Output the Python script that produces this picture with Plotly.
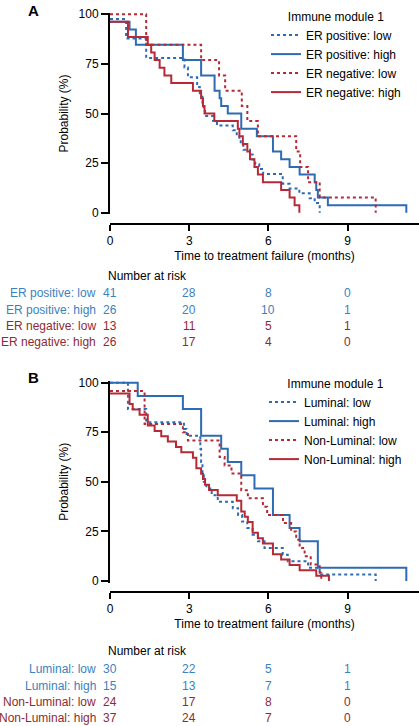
import plotly.graph_objects as go

# ---------------- Data ----------------
# Panel A : ER status x Immune module 1
er_pos_low_t = [0, 0.61, 1.37, 2.82, 2.95, 3.3, 3.4, 3.5, 3.55, 3.6, 3.9, 4.05, 4.65, 4.8, 4.9, 4.95, 5.05,
                5.3, 5.4, 5.5, 5.65, 5.8, 6.54, 6.8, 7.17, 7.56, 7.75, 7.94]
er_pos_low_s = [97.6, 87.8, 78.0, 73.2, 68.3, 63.4, 58.5, 53.7, 51.2, 48.8, 46.3, 43.9, 41.5, 39.0, 36.6, 34.1, 31.7,
                29.3, 26.8, 24.4, 22.0, 19.5, 14.6, 12.2, 9.8, 7.3, 4.9, 0]

er_pos_high_t = [0, 0.74, 0.98, 2.76, 3.45, 3.96, 4.15, 4.21, 4.46, 4.97, 5.56, 6.17, 6.48, 6.8, 7.18, 7.75,
                 7.81, 7.87, 8.25, 11.22]
er_pos_high_s = [96.2, 92.3, 84.6, 76.9, 69.2, 61.5, 57.7, 53.8, 50.0, 42.3, 38.5, 30.8, 26.9, 23.1, 19.2, 15.4,
                 11.5, 7.7, 3.8, 0]

er_neg_low_t = [0, 1.37, 3.45, 4.13, 4.36, 4.99, 5.2, 5.6, 7.05, 7.2, 7.5, 7.94, 10.06]
er_neg_low_s = [100, 84.6, 76.9, 69.2, 61.5, 53.8, 46.2, 38.5, 30.8, 23.1, 15.4, 7.7, 0]

er_neg_high_t = [0, 0.68, 1.43, 1.56, 1.69, 1.88, 2.06, 2.32, 3.14, 3.45, 3.52, 3.58, 3.95, 4.84, 4.9, 5.03,
                 5.2, 5.3, 5.47, 5.6, 5.79, 6.48, 6.8, 6.99, 7.17]
er_neg_high_s = [96.2, 88.5, 84.6, 80.8, 76.9, 73.1, 69.2, 65.4, 61.5, 57.7, 53.8, 50.0, 46.2, 42.3, 38.5, 34.6,
                 30.8, 26.9, 23.1, 19.2, 15.4, 11.5, 7.7, 3.8, 0]

# Panel B : Luminal status x Immune module 1
lum_low_t = [0, 0.68, 1.37, 2.8, 2.9, 3.42, 3.45, 3.5, 3.55, 3.65, 3.85, 4.08, 4.65, 4.85, 5.0, 5.2, 5.4, 5.6,
             5.85, 6.54, 6.73, 7.5, 7.94, 10.06]
lum_low_s = [100, 86.7, 80.0, 76.7, 73.3, 66.7, 60.0, 53.3, 50.0, 46.7, 43.3, 40.0, 36.7, 33.3, 30.0, 26.7, 23.3,
             20.0, 16.7, 13.3, 10.0, 6.7, 3.3, 0]

lum_high_t = [0, 1.05, 2.76, 3.45, 4.21, 4.46, 4.97, 5.47, 6.17, 6.8, 7.18, 7.87, 11.22]
lum_high_s = [100, 93.3, 86.7, 73.3, 66.7, 60.0, 53.3, 46.7, 33.3, 26.7, 20.0, 6.7, 0]

nonlum_low_t = [0, 1.31, 2.76, 2.95, 4.15, 4.34, 4.6, 4.97, 5.22, 5.79, 5.95, 6.55, 6.86, 7.05, 7.18, 7.37,
                7.6, 7.94, 8.0]
nonlum_low_s = [95.8, 79.2, 75.0, 70.8, 62.5, 58.3, 54.2, 45.8, 41.7, 37.5, 33.3, 29.2, 25.0, 20.8, 16.7, 12.5,
                8.3, 4.2, 0]

nonlum_high_t = [0, 0.74, 0.86, 1.12, 1.43, 1.69, 1.94, 2.19, 2.5, 2.7, 3.14, 3.27, 3.45, 3.52, 3.6, 3.75,
                 4.08, 4.8, 4.97, 5.1, 5.22, 5.4, 5.6, 5.79, 6.17, 6.48, 6.8, 7.18, 7.81, 8.29]
nonlum_high_s = [94.6, 89.2, 86.5, 83.8, 78.4, 75.7, 73.0, 70.3, 67.6, 64.9, 62.2, 56.8, 54.1, 51.4, 48.6, 45.9,
                 43.2, 40.5, 35.1, 32.4, 29.7, 24.3, 21.6, 18.9, 13.5, 10.8, 8.1, 5.4, 2.7, 0]

# Number at risk tables
risk_times = [0, 3, 6, 9]
labels_a = ["ER positive: low", "ER positive: high", "ER negative: low", "ER negative: high"]
risk_a = [[41, 28, 8, 0], [26, 20, 10, 1], [13, 11, 5, 1], [26, 17, 4, 0]]
labels_b = ["Luminal: low", "Luminal: high", "Non-Luminal: low", "Non-Luminal: high"]
risk_b = [[30, 22, 5, 1], [15, 13, 7, 1], [24, 17, 8, 0], [37, 24, 7, 0]]

x_ticks = [0, 3, 6, 9]
y_ticks = [0, 25, 50, 75, 100]

# ---------------- Styling ----------------
FONT = "Liberation Sans, Arial, Helvetica, sans-serif"
BLUE = "#2d6bb2"
RED = "#b52a36"
BLUE_TXT = "#3b82c0"
RED_TXT = "#8e2a31"
W, H = 419, 726


def py(px):
    return 1 - px / H


def pxx(px):
    return px / W


fig = go.Figure()

series_a = [
    (labels_a[0], er_pos_low_t, er_pos_low_s, BLUE, "dot"),
    (labels_a[1], er_pos_high_t, er_pos_high_s, BLUE, "solid"),
    (labels_a[2], er_neg_low_t, er_neg_low_s, RED, "dot"),
    (labels_a[3], er_neg_high_t, er_neg_high_s, RED, "solid"),
]
series_b = [
    (labels_b[0], lum_low_t, lum_low_s, BLUE, "dot"),
    (labels_b[1], lum_high_t, lum_high_s, BLUE, "solid"),
    (labels_b[2], nonlum_low_t, nonlum_low_s, RED, "dot"),
    (labels_b[3], nonlum_high_t, nonlum_high_s, RED, "solid"),
]

for name, t, s, c, d in series_a:
    fig.add_trace(go.Scatter(x=t, y=s, mode="lines", name=name, line=dict(color=c, width=2, dash=d, shape="hv"),
                             xaxis="x", yaxis="y", legend="legend"))
for name, t, s, c, d in series_b:
    fig.add_trace(go.Scatter(x=t, y=s, mode="lines", name=name, line=dict(color=c, width=2, dash=d, shape="hv"),
                             xaxis="x2", yaxis="y2", legend="legend2"))

# axis geometry (pixels measured from reference)
A_top, A_bot, A_xaxis = 12.7, 214.3, 224
B_top, B_bot, B_xaxis = 381.1, 582.6, 592

xcommon = dict(range=[0, 11.7], tickvals=x_ticks, showline=True, linewidth=2, linecolor="black",
               ticks="outside", ticklen=6, tickwidth=2, tickcolor="black", showgrid=False, zeroline=False,
               tickfont=dict(size=12, color="black"), anchor="free", automargin=False,
               domain=[pxx(110), 1.0])
ycommon = dict(range=[-0.8, 100.8], tickvals=y_ticks, showline=True, linewidth=2, linecolor="black",
               ticks="outside", ticklen=7, tickwidth=2, tickcolor="black", showgrid=False, zeroline=False,
               tickfont=dict(size=12, color="black"), automargin=False)

fig.update_layout(
    xaxis=dict(**xcommon, position=py(A_xaxis),
               title=dict(text="Time to treatment failure (months)", font=dict(size=12), standoff=3)),
    yaxis=dict(**ycommon, domain=[py(A_bot), py(A_top)], anchor="x",
               title=dict(text="Probability (%)", font=dict(size=12), standoff=7)),
    xaxis2=dict(**xcommon, position=py(B_xaxis),
                title=dict(text="Time to treatment failure (months)", font=dict(size=12), standoff=3)),
    yaxis2=dict(**ycommon, domain=[py(B_bot), py(B_top)], anchor="x2",
                title=dict(text="Probability (%)", font=dict(size=12), standoff=7)),
)

legend_common = dict(xanchor="left", yanchor="top", bgcolor="rgba(0,0,0,0)", font=dict(size=12, color="black"),
                     itemwidth=30, tracegroupgap=0)
fig.update_layout(
    legend=dict(**legend_common, x=pxx(266), y=py(5),
                title=dict(text="Immune module 1", side="top center", font=dict(size=12))),
    legend2=dict(**legend_common, x=pxx(264), y=py(372),
                 title=dict(text="Immune module 1", side="top center", font=dict(size=12))),
)

annotations = []
# panel letters
annotations.append(dict(text="<b>A</b>", x=pxx(33), y=py(10), xref="paper", yref="paper", showarrow=False,
                        font=dict(size=15, color="black"), xanchor="center", yanchor="middle"))
annotations.append(dict(text="<b>B</b>", x=pxx(33), y=py(377.5), xref="paper", yref="paper", showarrow=False,
                        font=dict(size=15, color="black"), xanchor="center", yanchor="middle"))


def risk_table(labels, risk, xref, header_y, row_ys):
    annotations.append(dict(text="Number at risk", x=pxx(106), y=py(header_y), xref="paper", yref="paper",
                            showarrow=False, xanchor="left", yanchor="middle", font=dict(size=12, color="black")))
    for i, (lab, vals) in enumerate(zip(labels, risk)):
        col = BLUE_TXT if i < 2 else RED_TXT
        annotations.append(dict(text=lab, x=pxx(98), y=py(row_ys[i]), xref="paper", yref="paper",
                                showarrow=False, xanchor="right", yanchor="middle", font=dict(size=12, color=col)))
        for tt, v in zip(risk_times, vals):
            annotations.append(dict(text=str(v), x=tt, y=py(row_ys[i]), xref=xref, yref="paper",
                                    showarrow=False, xanchor="center", yanchor="middle",
                                    font=dict(size=12, color=col)))


risk_table(labels_a, risk_a, "x", 276, [293.3, 310, 326.3, 342.3])
risk_table(labels_b, risk_b, "x2", 651, [669.3, 686, 702.3, 718.3])

fig.update_layout(
    annotations=annotations,
    width=W, height=H,
    margin=dict(l=0, r=0, t=0, b=0, pad=0, autoexpand=False),
    paper_bgcolor="white", plot_bgcolor="white",
    font=dict(family=FONT, size=12, color="black"),
    showlegend=True,
)

fig.write_html("out.html", config={"displayModeBar": False},
               post_script="document.body.style.margin='0';document.body.style.overflow='hidden';")
